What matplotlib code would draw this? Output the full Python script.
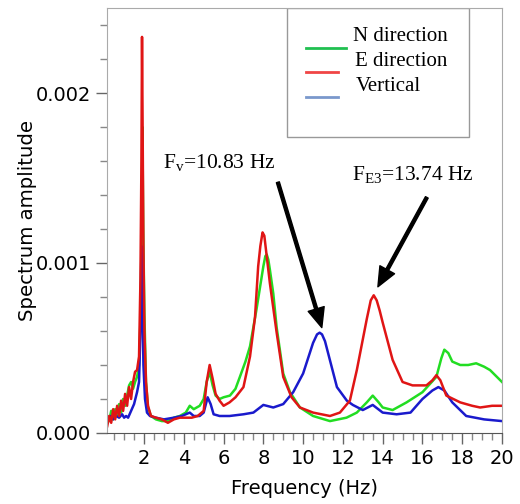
import matplotlib.pyplot as plt
from matplotlib.ticker import MultipleLocator, FormatStrFormatter

plt.rcParams['mathtext.fontset'] = 'custom'
plt.rcParams['mathtext.rm'] = 'Liberation Serif'
plt.rcParams['mathtext.it'] = 'Liberation Serif:italic'

# E direction (red)
e_freq = [0.15, 0.25, 0.35, 0.45, 0.55, 0.65, 0.75, 0.85, 0.95, 1.05, 1.15, 1.25,
          1.35, 1.45, 1.55, 1.65, 1.75, 1.82, 1.87, 1.9, 1.93, 1.97, 2.02, 2.1, 2.2,
          2.35, 2.6, 2.9, 3.2, 3.5, 3.8, 4.1, 4.4, 4.7, 5.0, 5.15, 5.3, 5.45, 5.6,
          5.8, 6.0, 6.3, 6.6, 7.0, 7.33, 7.58, 7.74, 7.85, 7.96, 8.05, 8.15, 8.33,
          8.67, 9.0, 9.42, 9.84, 10.5, 11.35, 11.85, 12.35, 12.7, 13.0, 13.2, 13.4,
          13.55, 13.7, 13.85, 14.0, 14.5, 15.0, 15.5, 16.2, 16.5, 16.7, 16.9, 17.2,
          17.9, 18.5, 18.9, 19.5, 20.0]
e_amp = [0.00004, 0.0001, 0.00006, 0.00014, 0.00008, 0.00016, 0.0001, 0.00019,
         0.00013, 0.00023, 0.00016, 0.00027, 0.0002, 0.0003, 0.00036, 0.00037,
         0.00045, 0.0009, 0.0016, 0.00233, 0.0018, 0.0011, 0.0006, 0.0003, 0.00016,
         0.0001, 0.00009, 0.00008, 0.00006, 0.00008, 0.00009, 0.00009, 0.00009,
         0.0001, 0.00013, 0.0003, 0.0004, 0.00032, 0.00023, 0.00019, 0.00016,
         0.00018, 0.00021, 0.00027, 0.00045, 0.00068, 0.00098, 0.0011, 0.00118,
         0.00116, 0.00106, 0.00088, 0.00059, 0.00033, 0.00021, 0.00015, 0.00012,
         0.0001, 0.00012, 0.00019, 0.00037, 0.00055, 0.00067, 0.00078, 0.00081,
         0.00078, 0.00072, 0.00065, 0.00043, 0.0003, 0.00028, 0.00028, 0.00031,
         0.00034, 0.00031, 0.00022, 0.00018, 0.00016, 0.00015, 0.00016, 0.00016]

# N direction (green)
n_freq = [0.15, 0.25, 0.35, 0.45, 0.55, 0.65, 0.75, 0.85, 0.95, 1.05, 1.15, 1.25,
          1.35, 1.45, 1.55, 1.65, 1.75, 1.83, 1.88, 1.92, 1.96, 2.02, 2.1, 2.2,
          2.35, 2.6, 2.9, 3.2, 3.5, 3.8, 4.1, 4.3, 4.5, 4.8, 5.0, 5.15, 5.3, 5.45,
          5.6, 5.8, 6.0, 6.32, 6.6, 6.82, 7.1, 7.33, 7.66, 8.0, 8.1, 8.17, 8.25,
          8.33, 8.5, 8.67, 9.0, 9.34, 9.84, 10.5, 11.35, 12.18, 12.7, 13.2, 13.5,
          13.8, 14.0, 14.5, 15.2, 16.0, 16.7, 16.95, 17.1, 17.3, 17.5, 17.9, 18.3,
          18.7, 19.1, 19.4, 20.0]
n_amp = [0.0001, 0.00007, 0.00013, 0.00008, 0.00014, 0.0001, 0.00017, 0.00012,
         0.0002, 0.00016, 0.00022, 0.00028, 0.0003, 0.00026, 0.0003, 0.00033,
         0.0004, 0.0007, 0.0012, 0.0018, 0.0012, 0.0007, 0.0003, 0.00015, 0.0001,
         0.00008, 0.00007, 0.00007, 0.00009, 0.0001, 0.00012, 0.00016, 0.00014,
         0.00016, 0.0002, 0.0003, 0.00036, 0.00028, 0.00022, 0.0002, 0.00021,
         0.00022, 0.00026, 0.00033, 0.00042, 0.00051, 0.00073, 0.00098, 0.00104,
         0.00105, 0.00102, 0.00096, 0.00082, 0.00062, 0.00035, 0.00024, 0.00015,
         0.0001, 0.00007, 0.00009, 0.00012, 0.00018, 0.00022, 0.00018, 0.00015,
         0.000135, 0.00018, 0.00024, 0.00033, 0.00044, 0.00049, 0.00047, 0.00042,
         0.0004, 0.0004, 0.00041, 0.00039, 0.00037, 0.0003]

# Vertical (blue)
v_freq = [0.15, 0.3, 0.45, 0.6, 0.75, 0.9, 1.0, 1.1, 1.2, 1.35, 1.5, 1.65, 1.75,
          1.82, 1.87, 1.92, 1.97, 2.05, 2.15, 2.3, 2.6, 3.0, 3.5, 3.9, 4.3, 4.5,
          4.8, 5.0, 5.2, 5.35, 5.5, 5.8, 6.3, 7.0, 7.5, 8.0, 8.5, 9.0, 9.5, 10.0,
          10.5, 10.7, 10.83, 10.95, 11.1, 11.3, 11.7, 12.2, 12.5, 13.0, 13.5, 14.0,
          14.7, 15.4, 16.0, 16.5, 16.8, 17.1, 17.5, 18.2, 19.1, 20.0]
v_amp = [0.00008, 0.0001, 0.00008, 0.0001, 0.00009, 0.00011, 0.00009, 0.0001,
         0.00009, 0.00013, 0.00017, 0.00024, 0.0003, 0.0006, 0.0011, 0.0008,
         0.0004, 0.0002, 0.00012, 0.0001, 0.00009, 0.00008, 0.00009, 0.0001,
         0.00012, 0.0001, 0.0001, 0.00012, 0.00021, 0.00017, 0.00011, 0.0001,
         0.0001, 0.00011, 0.00012, 0.000165, 0.00015, 0.00017, 0.00024, 0.00035,
         0.00053, 0.00058, 0.00059, 0.00058, 0.00054, 0.00045, 0.00027, 0.00019,
         0.000165, 0.000135, 0.000165, 0.00012, 0.00011, 0.00012, 0.0002,
         0.00025, 0.00027, 0.00025, 0.00018, 0.0001, 0.00008, 0.00007]

labels = ['N direction', 'E direction', 'Vertical']
line_colors = ['#22dd22', '#e01515', '#1a1acc']
legend_colors = ['#20c050', '#f04545', '#7a98cc']

fig = plt.figure(figsize=(5.2, 5.04), dpi=100)
ax = fig.add_axes([0.2058, 0.1409, 0.7596, 0.8432])

ax.plot(n_freq, n_amp, color=line_colors[0], lw=1.8)
ax.plot(v_freq, v_amp, color=line_colors[2], lw=1.8)
ax.plot(e_freq, e_amp, color=line_colors[1], lw=1.8)

ax.set_xlim(0.14, 20)
ax.set_ylim(0, 0.0025)
ax.xaxis.set_major_locator(MultipleLocator(2))
ax.xaxis.set_minor_locator(MultipleLocator(0.5))
ax.yaxis.set_major_locator(MultipleLocator(0.001))
ax.yaxis.set_minor_locator(MultipleLocator(0.0002))
ax.yaxis.set_major_formatter(FormatStrFormatter('%.3f'))
ax.set_xticks([2, 4, 6, 8, 10, 12, 14, 16, 18, 20])

ax.tick_params(which='major', length=8, width=1, color='#666666', labelsize=14)
ax.tick_params(which='minor', length=5, width=1, color='#888888')
for side in ['top', 'right', 'left']:
    ax.spines[side].set_color('#aaaaaa')
ax.spines['bottom'].set_color('#555555')

ax.set_xlabel('Frequency (Hz)', fontsize=14, labelpad=8)
ax.set_ylabel('Spectrum amplitude', fontsize=14.2, labelpad=-1)

# legend: big box, entries in its upper part, lines sit a bit below the text
box = plt.Rectangle((0.456, 0.696), 0.46, 0.304, transform=ax.transAxes,
                    fill=False, edgecolor='#999999', lw=1)
ax.add_patch(box)
leg_line_x = [(0.504, 0.605), (0.504, 0.585), (0.504, 0.585)]
leg_line_y = [0.906, 0.849, 0.791]
leg_text_x = [0.623, 0.628, 0.630]
leg_text_y = [0.934, 0.873, 0.816]
for i in range(3):
    ax.plot(leg_line_x[i], [leg_line_y[i]] * 2, color=legend_colors[i], lw=2,
            transform=ax.transAxes)
    ax.text(leg_text_x[i], leg_text_y[i], labels[i], transform=ax.transAxes,
            family='Liberation Serif', fontsize=15, va='center', ha='left')

arrow = dict(facecolor='black', edgecolor='black', width=2.2,
             headwidth=12, headlength=14, shrink=0)
ax.text(2.95, 0.00159, r'F$_\mathrm{v}$=10.83 Hz', family='Liberation Serif',
        fontsize=15.5, va='center', ha='left')
ax.annotate('', xy=(10.94, 0.00062), xytext=(8.73, 0.001475), arrowprops=arrow)
ax.text(12.45, 0.00152, r'F$_\mathrm{E3}$=13.74 Hz', family='Liberation Serif',
        fontsize=15.5, va='center', ha='left')
ax.annotate('', xy=(13.76, 0.00086), xytext=(16.22, 0.001386), arrowprops=arrow)

fig.savefig('out.png', dpi=100)
